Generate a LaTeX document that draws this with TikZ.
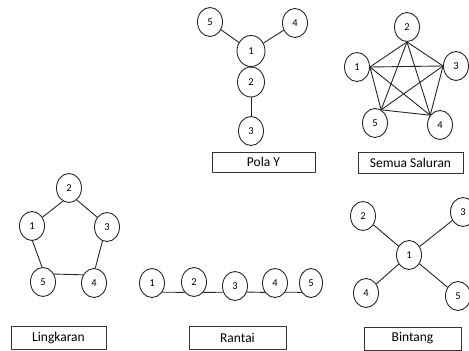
\documentclass[tikz,border=0pt]{standalone}
\usepackage{fontspec}
\setmainfont{Carlito}
\usetikzlibrary{shapes.geometric}
\begin{document}
\begin{tikzpicture}[x=1pt,y=-1pt,
  nd/.style={ellipse, draw=black!85, line width=0.9pt, minimum width=25, minimum height=29,
             inner sep=0pt, font=\fontsize{10.5}{12}\selectfont},
  lbl/.style={rectangle, draw=black!80, line width=0.9pt, minimum height=21, inner sep=0pt,
              font=\fontsize{13.5}{16}\selectfont},
  ln/.style={draw=black!85, line width=0.9pt}]
\useasboundingbox (0,0) rectangle (469,351);
\clip (0,0) rectangle (469,351);

% --- Pola Y ---
\node[nd] (y5) at (210,22) {5};
\node[nd] (y4) at (295,23) {4};
\node[nd, minimum width=28, minimum height=31] (y1) at (251,51) {1};
\node[nd, minimum width=27, minimum height=30] (y2) at (251,82) {2};
\node[nd] (y3) at (251,131) {3};
\node[lbl, minimum width=103, minimum height=20] (yl) at (263.5,162) {Pola Y};
\draw[ln] (y5) -- (y1);
\draw[ln] (y4) -- (y1);
\draw[ln] (y1) -- (y2);
\draw[ln] (y2) -- (y3);

% --- Semua Saluran ---
\node[nd] (s2) at (407,27) {2};
\node[nd] (s1) at (357,67) {1};
\node[nd] (s3) at (456,66) {3};
\node[nd] (s5) at (375,123) {5};
\node[nd] (s4) at (440,125) {4};
\node[lbl, minimum width=105] (sl) at (410.5,162.5) {Semua Saluran};
\draw[ln] (s2.south) -- (s1.east);
\draw[ln] (s2.south) -- (s3.west);
\draw[ln] (s2.south) -- (s5.65);
\draw[ln] (s2.south) -- (s4.135);
\draw[ln] (s1.east) -- (s3.west);
\draw[ln] (s1.east) -- (s5.65);
\draw[ln] (s1.east) -- (s4.135);
\draw[ln] (s3.west) -- (s5.65);
\draw[ln] (s3.west) -- (s4.135);
\draw[ln] (s5.65) -- (s4.135);

% --- Lingkaran ---
\node[nd] (l2) at (69,188) {2};
\node[nd] (l1) at (32,226) {1};
\node[nd] (l3) at (107,227) {3};
\node[nd] (l5) at (43,282) {5};
\node[nd] (l4) at (94,283) {4};
\node[lbl, minimum width=95, minimum height=23] (ll) at (58.5,337.5) {Lingkaran};
\draw[ln] (l2.-115) -- (l1.40);
\draw[ln] (l2.-57) -- (l3.135);
\draw[ln] (l3.-108) -- (l4.85);
\draw[ln] (l4.143) -- (l5.36);
\draw[ln] (l5.94) -- (l1.-88);

% --- Rantai: one level line along the lower halves ---
\node[nd] (r1) at (152,283) {1};
\node[nd] (r2) at (194,282) {2};
\node[nd] (r3) at (235,286) {3};
\node[nd] (r4) at (275,283) {4};
\node[nd, minimum width=23] (r5) at (311,283) {5};
\node[lbl, minimum width=97, minimum height=23] (rl) at (237.5,337.5) {Rantai};
\draw[ln] (r1.-42.6) -- (r2.-132);
\draw[ln] (r2.-48) -- (r3.-152.2);
\draw[ln] (r3.-27.8) -- (r4.-137.4);
\draw[ln] (r4.-42.6) -- (r5.-135);

% --- Bintang ---
\node[nd] (b1) at (409,255) {1};
\node[nd] (b2) at (363,216) {2};
\node[nd] (b3) at (463,212) {3};
\node[nd] (b4) at (366,293) {4};
\node[nd] (b5) at (458,296) {5};
\node[lbl, minimum width=97, minimum height=23] (bl) at (412.5,338.5) {Bintang};
\draw[ln] (b1) -- (b2);
\draw[ln] (b1) -- (b3);
\draw[ln] (b1) -- (b4);
\draw[ln] (b1) -- (b5);
\end{tikzpicture}
\end{document}
